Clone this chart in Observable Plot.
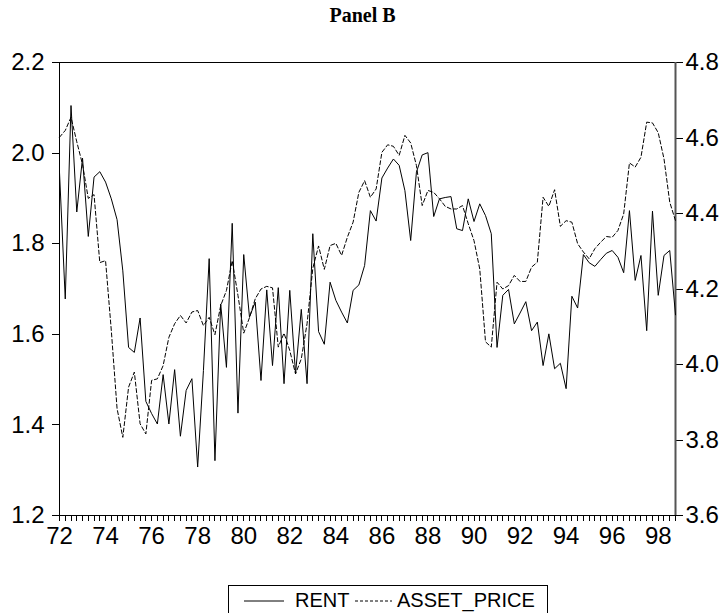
<!DOCTYPE html>
<html><head><meta charset="utf-8">
<script src="https://cdn.jsdelivr.net/npm/d3@7"></script>
<script src="https://cdn.jsdelivr.net/npm/@observablehq/plot@0.6"></script>
<style>
html,body{margin:0;padding:0;background:#fff;}
body{width:725px;height:613px;overflow:hidden;position:relative;font-family:"Liberation Sans",Arial,sans-serif;}
#title{position:absolute;left:0;top:1px;width:725px;height:28px;text-align:center;font:bold 20px "Liberation Serif","Times New Roman",serif;line-height:28px;color:#000;}
#chart{position:absolute;left:0;top:30px;}
#legend{position:absolute;left:228px;top:585px;width:320px;height:30px;border:1px solid #000;box-sizing:border-box;font-size:20px;color:#000;white-space:nowrap;}
#legend span{position:absolute;top:3px;}
#legend svg{position:absolute;top:0;}
</style></head>
<body>
<div id="title">Panel B</div>
<div id="chart"></div>
<div id="legend">
  <svg width="320" height="30"><line x1="15" x2="55" y1="15" y2="15" stroke="#000" stroke-width="1"/><line x1="126" x2="163" y1="15" y2="15" stroke="#000" stroke-width="1" stroke-dasharray="3,2"/></svg>
  <span style="left:66px">RENT</span>
  <span style="left:168px">ASSET_PRICE</span>
</div>
<script>
// Quarterly data, 1972Q1 - 1998Q4
const startYear = 1972;
const rent = [1.958,1.678,2.105,1.870,1.989,1.816,1.947,1.959,1.936,1.899,
1.853,1.740,1.571,1.560,1.636,1.452,1.425,1.402,1.511,1.402,
1.522,1.375,1.476,1.502,1.307,1.520,1.767,1.321,1.667,1.527,
1.845,1.426,1.776,1.638,1.671,1.498,1.698,1.531,1.703,1.491,
1.697,1.513,1.655,1.491,1.822,1.606,1.578,1.715,1.675,1.649,
1.625,1.697,1.709,1.752,1.873,1.850,1.945,1.967,1.987,1.973,
1.917,1.807,1.958,1.996,2.001,1.860,1.899,1.902,1.904,1.833,
1.829,1.899,1.849,1.888,1.862,1.822,1.571,1.686,1.699,1.623,
1.647,1.672,1.608,1.627,1.531,1.601,1.524,1.536,1.480,1.684,
1.658,1.776,1.758,1.750,1.765,1.779,1.785,1.770,1.736,1.873,
1.719,1.774,1.608,1.872,1.686,1.774,1.785,1.643];
const assetPrice = [4.602,4.620,4.655,4.590,4.530,4.440,4.450,4.270,4.275,4.090,
3.883,3.807,3.940,3.980,3.843,3.816,3.958,3.962,3.997,4.072,
4.108,4.130,4.110,4.139,4.143,4.103,4.125,4.079,4.156,4.196,
4.275,4.183,4.083,4.124,4.174,4.200,4.207,4.203,4.046,4.083,
4.037,3.975,4.015,4.108,4.255,4.314,4.252,4.315,4.321,4.289,
4.337,4.377,4.456,4.487,4.443,4.465,4.562,4.582,4.578,4.554,
4.607,4.587,4.527,4.421,4.461,4.456,4.439,4.419,4.412,4.412,
4.421,4.373,4.328,4.253,4.060,4.046,4.218,4.200,4.209,4.236,
4.220,4.220,4.258,4.271,4.443,4.419,4.463,4.366,4.381,4.377,
4.320,4.298,4.280,4.307,4.324,4.339,4.337,4.355,4.399,4.534,
4.523,4.549,4.642,4.640,4.614,4.545,4.430,4.381];
const leftTicks = [1.2,1.4,1.6,1.8,2.0,2.2];
const rightTicks = [3.6,3.8,4.0,4.2,4.4,4.6,4.8];
const yearLabels = [1972,1974,1976,1978,1980,1982,1984,1986,1988,1990,1992,1994,1996,1998];

const leftDomain = [1.2, 2.2];
const rightDomain = [3.6, 4.8];
const toLeft = v => leftDomain[0] + (v - rightDomain[0]) * (leftDomain[1]-leftDomain[0]) / (rightDomain[1]-rightDomain[0]);
const fromLeft = v => rightDomain[0] + (v - leftDomain[0]) * (rightDomain[1]-rightDomain[0]) / (leftDomain[1]-leftDomain[0]);

const data = rent.map((r, i) => ({t: startYear + i/4, rent: r, asset: assetPrice[i]}));
const quarterTicks = data.map(d => d.t);

const chart = Plot.plot({
  width: 725,
  height: 530,
  marginTop: 32,
  marginBottom: 45,
  marginLeft: 59,
  marginRight: 50,
  style: {fontFamily: "'Liberation Sans', Arial, sans-serif", fontSize: "24px", color: "#000", background: "#fff"},
  x: {domain: [startYear, startYear + (rent.length-1)/4]},
  y: {domain: leftDomain},
  marks: [
    Plot.frame({stroke: "#000", strokeWidth: 1, shapeRendering: "crispEdges"}),
    Plot.axisX({ticks: quarterTicks, tickFormat: () => "", tickSize: 6, stroke: "#000", strokeOpacity: 1, shapeRendering: "crispEdges", label: null}),
    Plot.axisX({ticks: yearLabels, tickFormat: d => String(d).slice(2), tickSize: 6, tickPadding: 5, stroke: "#000", shapeRendering: "crispEdges", label: null, fontSize: 24}),
    Plot.axisY({ticks: leftTicks, tickFormat: d => d.toFixed(1), tickSize: 7, tickPadding: 8, stroke: "#000", shapeRendering: "crispEdges", label: null, fontSize: 24}),
    Plot.axisY({anchor: "right", ticks: rightTicks.map(toLeft), tickFormat: d => fromLeft(d).toFixed(1), tickSize: 7, tickPadding: 3, stroke: "#000", shapeRendering: "crispEdges", label: null, fontSize: 24}),
    Plot.ruleX([startYear + (rent.length-1)/4], {stroke: "#555", strokeWidth: 2}),
    Plot.line(data, {x: "t", y: "rent", stroke: "#000", strokeWidth: 1}),
    Plot.line(data, {x: "t", y: d => toLeft(d.asset), stroke: "#000", strokeWidth: 1, strokeDasharray: "4,2.5"})
  ]
});
document.getElementById("chart").appendChild(chart);
</script>
</body></html>
